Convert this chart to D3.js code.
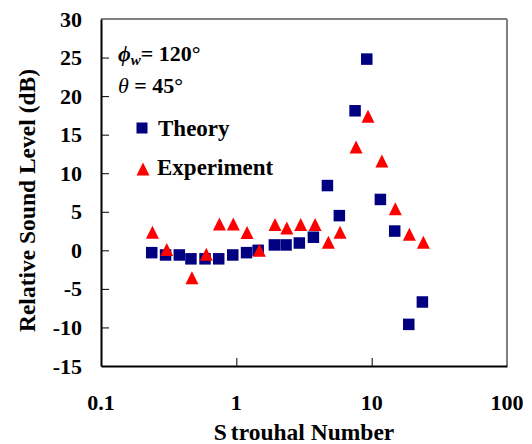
<!DOCTYPE html>
<html>
<head>
<meta charset="utf-8">
<script src="https://cdn.jsdelivr.net/npm/d3@7"></script>
<style>
  body { margin: 0; background: #fff; }
</style>
</head>
<body>
<div id="chart"></div>
<script>
// Relative sound level vs Strouhal number, theory vs experiment

const theoryX = [0.237, 0.30, 0.379, 0.462, 0.587, 0.741, 0.941, 1.19, 1.45, 1.91, 2.33,
                 2.92, 3.71, 4.71, 5.77, 7.54, 9.2, 11.6, 14.8, 18.8, 23.7];
const theoryY = [-0.3, -0.6, -0.6, -1.1, -1.1, -1.1, -0.6, -0.3, 0.0, 0.7, 0.7,
                 0.95, 1.7, 8.4, 4.5, 18.1, 24.8, 6.6, 2.5, -9.6, -6.7];

const expX = [0.24, 0.306, 0.47, 0.60, 0.75, 0.95, 1.2, 1.48, 1.93, 2.36,
              2.99, 3.82, 4.79, 5.84, 7.67, 9.4, 11.9, 14.96, 19.0, 24.1];
const expY = [2.35, 0.1, -3.55, -0.5, 3.4, 3.4, 2.3, 0.0, 3.35, 2.9,
              3.35, 3.35, 1.05, 2.35, 13.4, 17.4, 11.6, 5.4, 2.1, 1.05];

const xTicks = [0.1, 1, 10, 100];
const yTicks = [-15, -10, -5, 0, 5, 10, 15, 20, 25, 30];

const W = 532, H = 444;
const M = { left: 101, right: 507, top: 19, bottom: 366 };
const FONT = '"Liberation Serif", "DejaVu Serif", serif';

const svg = d3.select('#chart').append('svg')
    .attr('width', W).attr('height', H)
    .style('font-family', FONT)
    .style('font-weight', 'bold');

const x = d3.scaleLog().domain([0.1, 100]).range([M.left, M.right]);
const y = d3.scaleLinear().domain([-15, 30]).range([M.bottom, M.top]);

// frame: grey top/right, black left/bottom
svg.append('line').attr('x1', M.left).attr('x2', M.right).attr('y1', M.top).attr('y2', M.top)
    .attr('stroke', '#808080').attr('stroke-width', 2);
svg.append('line').attr('x1', M.right).attr('x2', M.right).attr('y1', M.top).attr('y2', M.bottom)
    .attr('stroke', '#808080').attr('stroke-width', 2);

// y axis, ticks pointing inward
const yAxis = svg.append('g')
    .attr('transform', `translate(${M.left},0)`)
    .call(d3.axisRight(y).tickValues(yTicks).tickSize(8).tickSizeOuter(0).tickFormat(''));
yAxis.select('.domain').attr('stroke', '#000').attr('stroke-width', 2);
yAxis.selectAll('.tick line').attr('stroke', '#000');
yAxis.selectAll('.tick').filter(d => d === 30 || d === -15).remove();

svg.append('g').selectAll('text').data(yTicks).join('text')
    .attr('x', 82).attr('y', d => y(d) + 7.5)
    .attr('text-anchor', 'end').style('font-size', '22px')
    .text(d => d);

// x axis, ticks pointing inward
const xAxis = svg.append('g')
    .attr('transform', `translate(0,${M.bottom})`)
    .call(d3.axisTop(x).tickValues(xTicks).tickSize(8).tickSizeOuter(0).tickFormat(''));
xAxis.select('.domain').attr('stroke', '#000').attr('stroke-width', 2);
xAxis.selectAll('.tick line').attr('stroke', '#000');
xAxis.selectAll('.tick').filter(d => d === 0.1 || d === 100).remove();

svg.append('g').selectAll('text').data(xTicks).join('text')
    .attr('x', d => x(d)).attr('y', 410)
    .attr('text-anchor', 'middle').style('font-size', '22px')
    .text(d => d);

// axis titles
const xt = svg.append('text')
    .attr('x', (M.left + M.right) / 2).attr('y', 440)
    .attr('text-anchor', 'middle').style('font-size', '23.5px');
xt.append('tspan').text('S');
xt.append('tspan').attr('dx', 4).text('trouhal Number');

svg.append('text')
    .attr('transform', `translate(35,${(M.top + M.bottom) / 2 + 8}) rotate(-90)`)
    .attr('text-anchor', 'middle').style('font-size', '23.5px')
    .text('Relative Sound Level (dB)');

// markers (triangles drawn over squares)
const SQ = 11.5, TRI = 13;
const triPath = s => `M0,${-s / 2}L${s / 2},${s / 2}L${-s / 2},${s / 2}Z`;

svg.append('g').selectAll('rect').data(theoryX).join('rect')
    .attr('x', d => x(d) - SQ / 2)
    .attr('y', (d, i) => y(theoryY[i]) - SQ / 2)
    .attr('width', SQ).attr('height', SQ)
    .attr('fill', '#000080');

svg.append('g').selectAll('path').data(expX).join('path')
    .attr('transform', (d, i) => `translate(${x(d)},${y(expY[i])})`)
    .attr('d', triPath(TRI))
    .attr('fill', '#ff0000');

// annotations
const a1 = svg.append('text').attr('x', 118).attr('y', 61).style('font-size', '22px');
a1.append('tspan').style('font-style', 'italic').text('ϕ');
a1.append('tspan').style('font-style', 'italic').style('font-size', '15px').attr('dy', 4).text('w');
a1.append('tspan').attr('dy', -4).text('= 120°');

const a2 = svg.append('text').attr('x', 118).attr('y', 93).style('font-size', '22px');
a2.append('tspan').style('font-style', 'italic').style('font-weight', 'normal').text('θ');
a2.append('tspan').text(' = 45°');

// legend
svg.append('rect').attr('x', 142 - 5.5).attr('y', 128 - 5.5)
    .attr('width', 11).attr('height', 11).attr('fill', '#000080');
svg.append('text').attr('x', 158).attr('y', 135.5).style('font-size', '23px').text('Theory');

svg.append('path').attr('transform', 'translate(143,169)')
    .attr('d', triPath(13)).attr('fill', '#ff0000');
svg.append('text').attr('x', 157).attr('y', 175).style('font-size', '23px').text('Experiment');
</script>
</body>
</html>
